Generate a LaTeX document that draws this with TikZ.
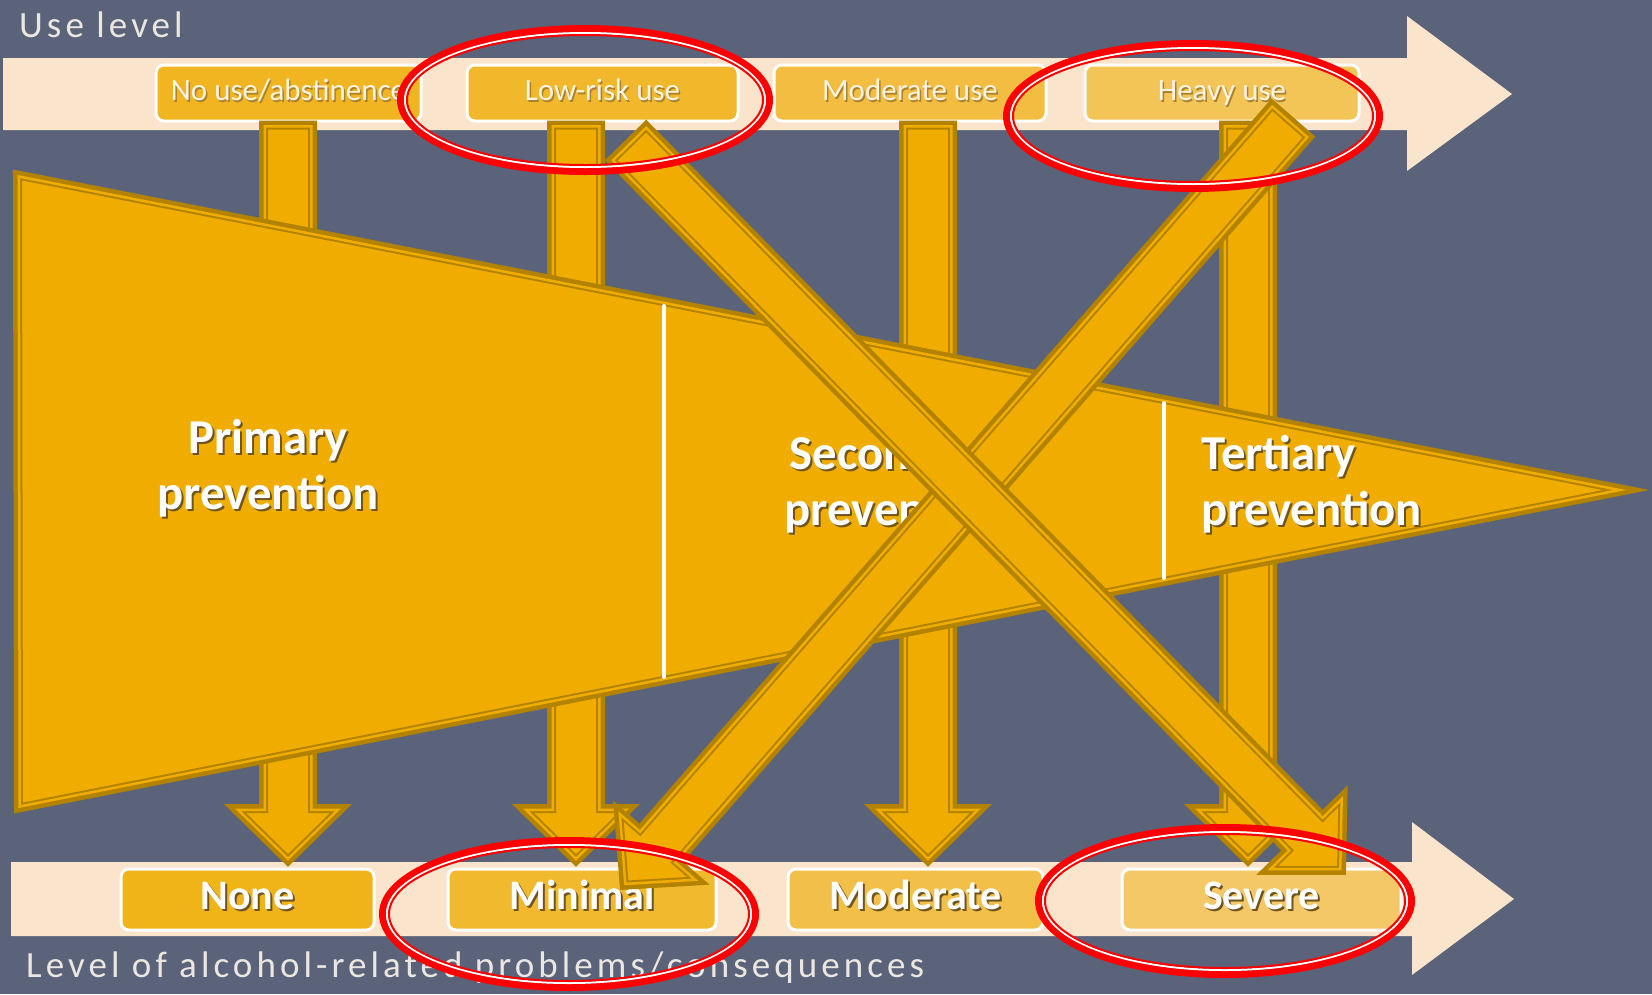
\documentclass[tikz,border=0pt]{standalone}
\usepackage{fontspec}
\setmainfont{Carlito}
\newfontfamily\spacedfont[LetterSpace=11]{Carlito}
\usetikzlibrary{calc}

\definecolor{slate}{HTML}{5A6379}
\definecolor{gold}{HTML}{F0AD00}
\definecolor{golddark}{HTML}{B38300}
\definecolor{band}{HTML}{FBE4CC}
\definecolor{tbA}{HTML}{F0B520}
\definecolor{tbB}{HTML}{F1B82C}
\definecolor{tbC}{HTML}{F2BD40}
\definecolor{tbD}{HTML}{F3C456}
\definecolor{bbA}{HTML}{F0B418}
\definecolor{bbB}{HTML}{F1B92E}
\definecolor{bbC}{HTML}{F2BF48}
\definecolor{bbD}{HTML}{F4C866}
\definecolor{labeltext}{HTML}{FFF4E2}
\definecolor{txtshadow}{HTML}{6E5520}
\definecolor{lightshadow}{HTML}{A88232}
\definecolor{capt}{HTML}{ECE6E0}
\definecolor{ring}{HTML}{FF0000}

% text with a small drop shadow: [offset]{shadow colour}{text}
\newcommand\shtext[3][2]{\leavevmode\rlap{\kern#1pt\raisebox{-#1pt}{\textcolor{#2}{#3}}}#3}

% gold shape with a compound outline (thick outer line, thin inner line)
\newcommand\goldpath[1]{%
  \fill[gold] #1;
  \draw[golddark, line width=9pt] #1;
  \begin{scope}\clip #1; \draw[gold, line width=5pt] #1;\end{scope}}

% block arrow from tail point #1 to tip #2
\def\arrsw{24.5pt}
\def\arrhw{53pt}
\def\arrhl{52pt}
\newcommand\goldarrow[2]{%
  \path ($(#2)!\arrhl!(#1)$) coordinate (hb)
        ($(#1)!\arrsw!90:(#2)$) coordinate (s1)
        ($(hb)!\arrsw!90:(#2)$) coordinate (s2)
        ($(hb)!\arrhw!90:(#2)$) coordinate (h1)
        ($(hb)!\arrhw!-90:(#2)$) coordinate (h2)
        ($(hb)!\arrsw!-90:(#2)$) coordinate (s3)
        ($(#1)!\arrsw!-90:(#2)$) coordinate (s4);
  \goldpath{(s1) -- (s2) -- (h1) -- (#2) -- (h2) -- (s3) -- (s4) -- cycle}}

% red double ring round centre #1 with outer radii #2, #3
\newcommand\redring[3]{%
  \draw[ring, line width=7pt] (#1) ellipse [x radius=#2pt-3.5pt, y radius=#3pt-3.5pt];
  \draw[white, line width=2pt] (#1) ellipse [x radius=#2pt-8pt, y radius=#3pt-8pt];
  \draw[ring, line width=2pt] (#1) ellipse [x radius=#2pt-10pt, y radius=#3pt-10pt];}

\begin{document}
\begin{tikzpicture}[x=1pt, y=-1pt,
  topbox/.style={rounded corners=8pt, draw=white, line width=3pt,
    minimum height=56pt, inner sep=0pt, text=labeltext,
    text height=20pt, text depth=5pt,
    font=\fontsize{31}{31}\selectfont},
  botbox/.style={rounded corners=8pt, draw=white, line width=3pt,
    minimum height=61pt, inner sep=0pt, text=white,
    text height=27pt, text depth=7pt,
    font=\fontsize{42}{42}\selectfont\bfseries},
  prevtxt/.style={text=white, inner sep=0pt,
    font=\fontsize{48.7}{56}\selectfont\bfseries},
  captxt/.style={text=capt, inner sep=0pt,
    font=\spacedfont\fontsize{37}{40}\selectfont}]

\useasboundingbox (0,0) rectangle (1652,994);
\fill[slate] (0,0) rectangle (1652,994);

% scale bands
\fill[band] (3,58) -- (1407,58) -- (1407,16) -- (1512,94) -- (1407,171)
  -- (1407,130) -- (3,130) -- cycle;
\fill[band] (11,862) -- (1412,862) -- (1412,822) -- (1514,899) -- (1412,975)
  -- (1412,936) -- (11,936) -- cycle;

% use levels
\node[topbox, fill=tbA, minimum width=265pt] (nouse) at (288.5,93)
  {\shtext[1.5]{lightshadow}{No use/abstinence}};
\node[topbox, fill=tbB, minimum width=271pt] (lowrisk) at (602.5,93)
  {\shtext[1.5]{lightshadow}{Low-risk use}};
\node[topbox, fill=tbC, minimum width=272pt] (moduse) at (910,93)
  {\shtext[1.5]{lightshadow}{Moderate use}};
\node[topbox, fill=tbD, minimum width=274pt] (heavy) at (1222,93)
  {\shtext[1.5]{lightshadow}{Heavy use}};

% problem levels
\node[botbox, fill=bbA, minimum width=253pt] (none) at (247.5,899.5)
  {\shtext{txtshadow}{None}};
\node[botbox, fill=bbB, minimum width=268pt] (minimal) at (582,899.5)
  {\shtext{txtshadow}{Minimal}};
\node[botbox, fill=bbC, minimum width=255pt] (moderate) at (915.5,899.5)
  {\shtext{txtshadow}{Moderate}};
\node[botbox, fill=bbD, minimum width=279pt] (severe) at (1261.5,899.5)
  {\shtext{txtshadow}{Severe}};

% straight-down arrows
\coordinate (v1a) at (288,125);  \coordinate (v1b) at (288,860.5);
\coordinate (v2a) at (576,125);  \coordinate (v2b) at (576,860.5);
\coordinate (v3a) at (928,125);  \coordinate (v3b) at (928,860.5);
\coordinate (v4a) at (1248,125); \coordinate (v4b) at (1248,860.5);
\goldarrow{v1a}{v1b}
\goldarrow{v2a}{v2b}
\goldarrow{v3a}{v3b}
\goldarrow{v4a}{v4b}

% prevention wedge
\coordinate (fTL) at (17.5,175);
\coordinate (fTip) at (1626,490);
\coordinate (fBL) at (18.5,808);
\goldpath{(fTL) -- (fTip) -- (fBL) -- cycle}
\draw[white, line width=4pt, line cap=round] (664,306) -- (664,677);
\draw[white, line width=4pt, line cap=round] (1164,403) -- (1164,578);

\node[prevtxt, anchor=base] (prim1) at (268,453) {\shtext{txtshadow}{Primary}};
\node[prevtxt, anchor=base] (prim2) at (268,509) {\shtext{txtshadow}{prevention}};
\node[prevtxt, anchor=base] (sec1) at (895,469) {\shtext{txtshadow}{Secondary}};
\node[prevtxt, anchor=base] (sec2) at (895,525) {\shtext{txtshadow}{prevention}};
\node[prevtxt, anchor=base west] (ter1) at (1201,469) {\shtext{txtshadow}{Tertiary}};
\node[prevtxt, anchor=base west] (ter2) at (1201,525) {\shtext{txtshadow}{prevention}};

% crossing arrows
\coordinate (d2a) at (1290.5,120.9); \coordinate (d2b) at (624.2,885.2);
\coordinate (d1a) at (628.7,143.2);  \coordinate (d1b) at (1341.5,870.4);
\goldarrow{d2a}{d2b}
\goldarrow{d1a}{d1b}

% axis captions
\node[captxt, anchor=base west] (uselevel) at (19,37) {Use level};
\node[captxt, anchor=base west] (problems) at (26,977)
  {Level of alcohol-related problems/consequences};

% highlight rings
\coordinate (r1) at (585,100);
\coordinate (r2) at (1193,116);
\coordinate (r3) at (569,914);
\coordinate (r4) at (1225,901);
\redring{r1}{188}{75}
\redring{r2}{190}{76}
\redring{r3}{190}{77}
\redring{r4}{190}{77}
\end{tikzpicture}
\end{document}
